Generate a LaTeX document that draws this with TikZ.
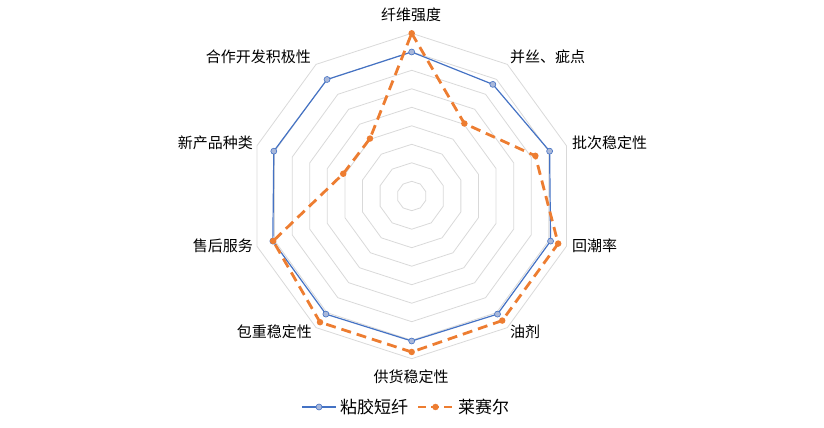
\documentclass[tikz,border=0pt]{standalone}
\usepackage{fontspec}
\usetikzlibrary{calc}
\newfontfamily\cjk{Noto Sans CJK SC}
\definecolor{blu}{HTML}{4472C4}
\definecolor{blufill}{HTML}{A9B8DA}
\definecolor{ora}{HTML}{ED7D31}
\definecolor{grid}{HTML}{D9D9D9}
\begin{document}
\begin{tikzpicture}[x=1pt,y=1pt,
  ringline/.style={draw=grid,line width=0.8pt},
  bluline/.style={draw=blu,line width=1.2pt},
  oraline/.style={draw=ora,line width=2.8pt,dash pattern=on 10pt off 6pt},
  bmark/.style={circle,fill=blufill,draw=blu,line width=0.6pt,inner sep=0pt,minimum size=6pt},
  omark/.style={circle,fill=ora,inner sep=0pt,minimum size=6.5pt},
  lab/.style={font=\cjk\fontsize{15}{17}\selectfont,inner sep=0pt}]
\useasboundingbox (0,0) rectangle (824,428);
\coordinate (O) at (411.7,232);
% rings
\foreach \k in {0,...,8}{
  \pgfmathsetmacro\r{14.7+18.5*\k}
  \draw[ringline] ($(O)+(90:\r)$) \foreach \i in {1,...,9}{ -- ($(O)+(90-36*\i:\r)$)} -- cycle;
}
% data
\foreach \i/\b/\o in {0/144/162.7,1/138/89.6,2/145/130,3/146/154,4/146/154,5/145/156,6/146/156,7/146/145.7,8/145/72,9/144/71}{
  \coordinate (b\i) at ($(O)+(90-36*\i:\b)$);
  \coordinate (o\i) at ($(O)+(90-36*\i:\o)$);
}
\draw[bluline] (b0)--(b1)--(b2)--(b3)--(b4)--(b5)--(b6)--(b7)--(b8)--(b9)--cycle;
\foreach \i in {0,...,9}{\node[bmark] (bm\i) at (b\i) {};}
\draw[oraline] (o0)--(o1)--(o2)--(o3)--(o4)--(o5)--(o6)--(o7)--(o8)--(o9)--cycle;
\foreach \i in {0,...,9}{\node[omark] (om\i) at (o\i) {};}
% labels
\node[lab] (l0) at (411,413) {纤维强度};
\node[lab,anchor=west] (l1) at (510,371) {并丝、疵点};
\node[lab,anchor=west] (l2) at (572,285) {批次稳定性};
\node[lab,anchor=west] (l3) at (572,182) {回潮率};
\node[lab,anchor=west] (l4) at (510,96) {油剂};
\node[lab] (l5) at (411,51) {供货稳定性};
\node[lab,anchor=east] (l6) at (312,96) {包重稳定性};
\node[lab,anchor=east] (l7) at (253,182) {售后服务};
\node[lab,anchor=east] (l8) at (253,285) {新产品种类};
\node[lab,anchor=east] (l9) at (311,371) {合作开发积极性};
% legend
\coordinate (la) at (302,21); \coordinate (lb) at (336,21);
\draw[bluline] (la) -- (lb);
\node[bmark] (lgb) at ($(la)!0.5!(lb)$) {};
\node[lab,anchor=west,font=\cjk\fontsize{17}{19}\selectfont] (lt1) at (340,21) {粘胶短纤};
\coordinate (lc) at (418,21); \coordinate (ld) at (453,21);
\draw[oraline,dash pattern=on 8pt off 5pt] (lc) -- (ld);
\node[omark] (lgo) at ($(lc)!0.5!(ld)$) {};
\node[lab,anchor=west,font=\cjk\fontsize{17}{19}\selectfont] (lt2) at (458,21) {莱赛尔};
\end{tikzpicture}
\end{document}
